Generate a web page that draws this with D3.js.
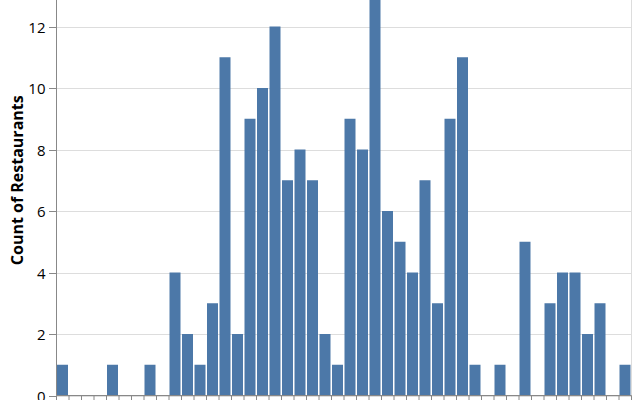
<!DOCTYPE html>
<html>
<head>
<meta charset="utf-8">
<script src="https://cdn.jsdelivr.net/npm/d3@7"></script>
<style>
  html, body { margin: 0; padding: 0; background: #fff; }
  svg { display: block; }
  text { font-family: "Open Sans", sans-serif; }
</style>
</head>
<body>
<svg id="chart" width="640" height="400"></svg>
<script>
// Histogram bins (index of each bin) and restaurant counts per bin
const binIndex = d3.range(46);
const counts = [1,0,0,0,1,0,0,1,0,4,2,1,3,11,2,9,10,12,7,8,7,2,1,9,8,13,6,5,4,7,3,9,11,1,0,1,0,5,0,3,4,4,2,3,0,1];
const yTickValues = [0,2,4,6,8,10,12,14];
const yTitle = "Count of Restaurants";

(function () {
const svg = d3.select("#chart");
const mLeft = 56.5, mRight = 631.5, mBottom = 395.5, mTop = -35;

const x = d3.scaleLinear().domain([0, binIndex.length]).range([mLeft, mRight]);
const y = d3.scaleLinear().domain([0, 14]).range([mBottom, mTop]);
const step = x(1) - x(0);

// grid
svg.append("g").selectAll("line").data(yTickValues).join("line")
  .attr("x1", mLeft).attr("x2", mRight)
  .attr("y1", d => Math.round(y(d)) + 0.5).attr("y2", d => Math.round(y(d)) + 0.5)
  .attr("stroke", "#ddd").attr("stroke-width", 1);

// view border (right side visible)
svg.append("rect")
  .attr("x", mLeft).attr("y", mTop).attr("width", mRight - mLeft).attr("height", mBottom - mTop)
  .attr("fill", "none").attr("stroke", "#ddd");

// bars
svg.append("g").selectAll("rect").data(binIndex).join("rect")
  .attr("x", i => x(i) + 0.5)
  .attr("width", step - 1.5)
  .attr("y", i => y(counts[i]))
  .attr("height", i => y(0) - y(counts[i]))
  .attr("fill", "#4c78a8");

// x axis
const xAxis = svg.append("g").attr("transform", `translate(0,${mBottom})`);
xAxis.append("line").attr("x1", mLeft).attr("x2", mRight).attr("y1", 0).attr("y2", 0)
  .attr("stroke", "#888");
xAxis.selectAll("line.tick").data(d3.range(binIndex.length + 1)).join("line")
  .attr("class", "tick")
  .attr("x1", d => x(d)).attr("x2", d => x(d))
  .attr("y1", 0).attr("y2", 7.5)
  .attr("stroke", "#888");

// y axis
const yAxis = svg.append("g");
yAxis.append("line").attr("x1", mLeft).attr("x2", mLeft).attr("y1", mTop).attr("y2", mBottom)
  .attr("stroke", "#888");
const yt = yAxis.selectAll("g.tick").data(yTickValues).join("g")
  .attr("class", "tick")
  .attr("transform", d => `translate(0,${Math.round(y(d)) + 0.5})`);
yt.append("line").attr("x1", mLeft - 7.5).attr("x2", mLeft).attr("stroke", "#888");
yt.append("text")
  .attr("x", mLeft - 11)
  .attr("dy", "0.35em")
  .attr("text-anchor", "end")
  .attr("font-size", 15)
  .attr("fill", "#000")
  .text(d => d);

svg.append("text")
  .attr("transform", `translate(23,${(mTop + mBottom) / 2}) rotate(-90)`)
  .attr("text-anchor", "middle")
  .attr("font-size", 16)
  .attr("font-weight", "bold")
  .attr("fill", "#000")
  .text(yTitle);
})();
</script>
</body>
</html>
